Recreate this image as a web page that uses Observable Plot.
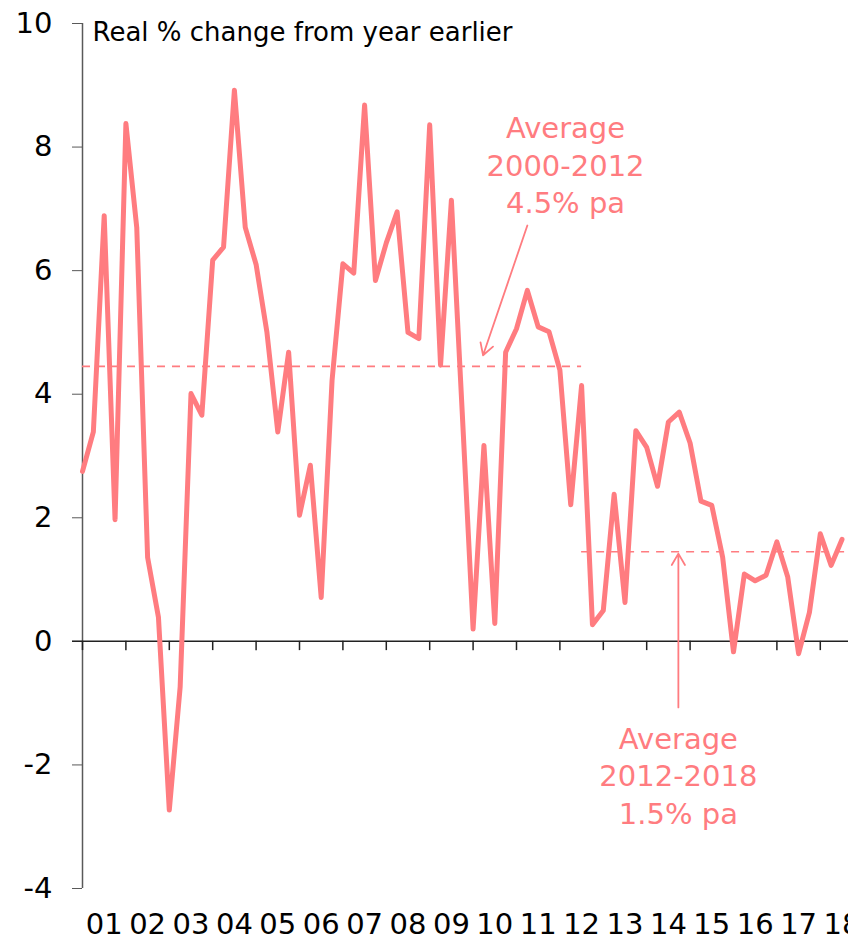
<!DOCTYPE html>
<html>
<head>
<meta charset="utf-8">
<script src="https://cdn.jsdelivr.net/npm/d3@7"></script>
<script src="https://cdn.jsdelivr.net/npm/@observablehq/plot@0.6"></script>
<style>
  html, body { margin: 0; padding: 0; background: #fff; overflow: hidden; }
  #chart svg { display: block; }
</style>
</head>
<body>
<div id="chart"></div>
<script>
// Quarterly real % change from year earlier, first point = start of 2001 on the axis
const firstYear = 2001;
const values = [
  2.75, 3.39, 6.89, 1.97, 8.38, 6.70, 1.36, 0.39, -2.73, -0.74,
  4.01, 3.66, 6.17, 6.38, 8.92, 6.70, 6.10, 5.00, 3.39, 4.68,
  2.04, 2.85, 0.71, 4.22, 6.11, 5.96, 8.68, 5.84, 6.45, 6.95,
  5.00, 4.90, 8.36, 4.47, 7.14, 3.70, 0.20, 3.17, 0.29, 4.68,
  5.06, 5.68, 5.09, 5.01, 4.39, 2.21, 4.14, 0.27, 0.50, 2.38,
  0.63, 3.41, 3.14, 2.51, 3.55, 3.71, 3.21, 2.27, 2.20, 1.36,
  -0.17, 1.09, 0.98, 1.07, 1.61, 1.04, -0.20, 0.47, 1.74, 1.23,
  1.65
];
const yearTicks = d3.range(2001, 2019);
const yearLabels = ["01","02","03","04","05","06","07","08","09","10","11","12","13","14","15","16","17","18"];
const yTicks = [-4, -2, 0, 2, 4, 6, 8, 10];
const yTickLabels = ["-4", "-2", "0", "2", "4", "6", "8", "10"];

// Period averages (dashed lines)
const avgValues = [4.45, 1.45];
const avgFrom = [2001, 2012.5];
const avgTo = [2012.5, 2018.65];
const avgText = ["Average\n2000-2012\n4.5% pa", "Average\n2012-2018\n1.5% pa"];
const avgTextX = [2012.13, 2014.73];
const avgTextY = [7.73, -2.15];
// arrows pointing at the dashed lines
const arrowX1 = [2011.25, 2014.73];
const arrowY1 = [6.73, -1.07];
const arrowX2 = [2010.23, 2014.73];
const arrowY2 = [4.63, 1.42];

const title = "Real % change from year earlier";

const pink = "#ff7c80";
const series = values.map((v, i) => ({t: firstYear + i / 4, v}));
const avgs = avgValues.map((v, i) => ({v, x1: avgFrom[i], x2: avgTo[i], text: avgText[i], tx: avgTextX[i], ty: avgTextY[i],
  ax1: arrowX1[i], ay1: arrowY1[i], ax2: arrowX2[i], ay2: arrowY2[i]}));
const labelPos = yearTicks.map(y => y + 0.5);

const chart = Plot.plot({
  width: 848,
  height: 945,
  marginLeft: 82,
  marginRight: 0,
  marginTop: 23,
  marginBottom: 57,
  style: {fontFamily: "DejaVu Sans", color: "#000", background: "#fff", overflow: "hidden"},
  x: {domain: [2001, 2018.65]},
  y: {domain: [-4, 10]},
  marks: [
    Plot.axisY(yTicks, {tickSize: 10, tickPadding: 20, fontSize: 29, stroke: "#595959", color: "#000", label: null,
      tickFormat: (d, i) => yTickLabels[i]}),
    Plot.axisX(labelPos, {tickSize: 0, tickPadding: 25, fontSize: 29, tickFormat: (d, i) => yearLabels[i], label: null}),
    Plot.ruleX([2001], {y1: -4, y2: 10, stroke: "#595959", strokeWidth: 1.5}),
    Plot.ruleY([0], {stroke: "#222", strokeWidth: 1.5, x1: 2001 - 10 / 43.4, x2: 2018.65}),
    Plot.ruleX(yearTicks, {y1: 0, y2: -0.15, stroke: "#222", strokeWidth: 1.5}),
    Plot.ruleY(avgs, {y: "v", x1: "x1", x2: "x2", stroke: pink, strokeWidth: 1.6, strokeDasharray: "8,7"}),
    Plot.line(series, {x: "t", y: "v", stroke: pink, strokeWidth: 5, strokeLinejoin: "round", strokeLinecap: "round"}),
    Plot.arrow(avgs, {x1: "ax1", y1: "ay1", x2: "ax2", y2: "ay2", stroke: pink, strokeWidth: 1.8, headLength: 11}),
    Plot.text(avgs, {x: "tx", y: "ty", text: "text", fill: pink, fontSize: 29, lineHeight: 1.29, textAnchor: "middle", lineAnchor: "middle"}),
    Plot.text([title], {frameAnchor: "top-left", dx: 10, dy: -1, lineAnchor: "top", textAnchor: "start", fontSize: 26, fill: "#000", style: "letter-spacing:1.1px"})
  ]
});
document.getElementById("chart").appendChild(chart);
</script>
</body>
</html>
